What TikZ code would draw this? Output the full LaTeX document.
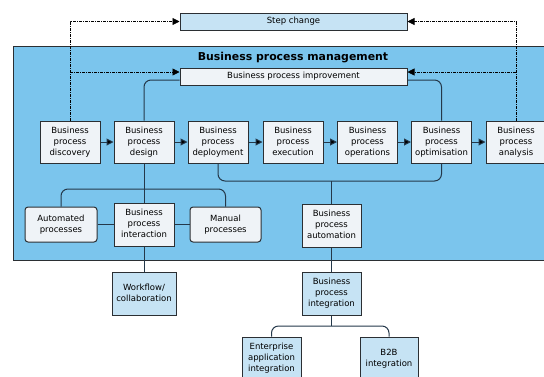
\documentclass[tikz,border=0pt]{standalone}
\usepackage{fontspec}
\setmainfont{DejaVu Sans}
\usetikzlibrary{arrows.meta}
\definecolor{bpmblue}{HTML}{7BC5ED}
\definecolor{boxgrey}{HTML}{EFF3F7}
\definecolor{boxblue}{HTML}{C6E3F4}
\definecolor{edge}{HTML}{2B2F33}
\definecolor{wire}{HTML}{24384A}
\tikzset{
  txt/.style={font=\fontsize{8.5}{11}\selectfont, align=center, text=black},
  pbox/.style={txt, draw=edge, line width=1pt, fill=boxgrey, minimum width=60pt, minimum height=42pt, inner sep=1pt, execute at end node={\vphantom{gy}}},
  rbox/.style={pbox, rounded corners=3pt, minimum height=35pt},
  bbox/.style={pbox, fill=boxblue, minimum height=43pt},
  wide/.style={txt, draw=edge, line width=1pt, minimum width=227pt, minimum height=17pt, inner sep=0pt},
  flow/.style={draw=wire, line width=1pt, -{Triangle[length=7pt,width=7pt,fill=black]}},
  wireline/.style={draw=wire, line width=1pt, rounded corners=7pt},
  dashline/.style={draw=black, line width=0.7pt, dash pattern=on 3pt off 1pt on 1pt off 1pt},
  dasharrow/.style={dashline, -{Triangle[length=7pt,width=7pt]}}
}
\begin{document}
\begin{tikzpicture}[x=1pt,y=-1pt]
\useasboundingbox (0,0) rectangle (544,376);
\clip (0,0) rectangle (544,376);
\fill[white] (0,0) rectangle (544,376);
% background panel
\node[draw=edge, line width=1pt, fill=bpmblue, minimum width=537pt, minimum height=214pt, inner sep=0pt, anchor=north west] (bpm) at (13,46) {};
\node[font=\bfseries\fontsize{10.9}{13}\selectfont] (title) at (293,58) {Business process management};
% top boxes
\node[wide, fill=boxblue] (step) at (293.5,21.5) {Step change};
\node[wide, fill=boxgrey] (bpi) at (293.5,76.5) {Business process improvement};
% main row
\node[pbox] (disc) at (70,142) {Business\\process\\discovery};
\node[pbox] (design) at (144,142) {Business\\process\\design};
\node[pbox] (deploy) at (218,142) {Business\\process\\deployment};
\node[pbox] (exec) at (293,142) {Business\\process\\execution};
\node[pbox] (oper) at (367.5,142) {Business\\process\\operations};
\node[pbox] (optim) at (441.5,142) {Business\\process\\optimisation};
\node[pbox] (anal) at (516,142) {Business\\process\\analysis};
% second row
\node[rbox, minimum width=72pt] (auto) at (61,224.5) {Automated\\processes};
\node[pbox, minimum height=43pt] (inter) at (144,224.5) {Business\\process\\interaction};
\node[rbox, minimum width=71pt] (manual) at (225.5,224.5) {Manual\\processes};
\node[pbox, minimum width=59pt, minimum height=43pt] (automation) at (331.5,225.5) {Business\\process\\automation};
% lower boxes
\node[bbox, minimum width=64pt] (work) at (144,293.5) {Workflow/\\collaboration};
\node[bbox, minimum width=59pt] (integ) at (331.5,293.5) {Business\\process\\integration};
\node[bbox, minimum width=59pt] (eai) at (271.5,358.5) {Enterprise\\application\\integration};
\node[bbox, minimum width=58pt] (b2b) at (389,358.5) {B2B\\integration};
% flow arrows
\draw[flow] (disc) -- (design);
\draw[flow] (design) -- (deploy);
\draw[flow] (deploy) -- (exec);
\draw[flow] (exec) -- (oper);
\draw[flow] (oper) -- (optim);
\draw[flow] (optim) -- (anal);
% improvement loop
\draw[wireline] ([yshift=-3.5pt]bpi.west) -| (design.north);
\draw[wireline] ([yshift=-3.5pt]bpi.east) -| (optim.north);
% deployment-optimisation bracket
\coordinate (bk) at (331.5,181);
\draw[wireline] (deploy.south) |- (bk) -| (optim.south);
\draw[wireline] (bk) -- (automation.north);
% design down
\coordinate (dk) at (144,189);
\draw[wireline] (design.south) -- (inter.north);
\draw[wireline] (auto.north) |- (dk) -| (manual.north);
\draw[wireline] (auto.east) -- (inter.west);
\draw[wireline] (inter.east) -- (manual.west);
\draw[wireline] (inter.south) -- (work.north);
\draw[wireline] (automation.south) -- (integ.north);
\coordinate (ik) at (331.5,326);
\draw[wireline] (integ.south) -- (ik);
\draw[wireline] (eai.north) |- (ik) -| (b2b.north);
% dashed feedback
\coordinate (dl) at (70,72);
\coordinate (dr) at (516,72);
\draw[dasharrow] (disc.north) |- (step.west);
\draw[dasharrow] (dl) -- (dl -| bpi.west);
\draw[dasharrow] (anal.north) |- (step.east);
\draw[dasharrow] (dr) -- (dr -| bpi.east);
\end{tikzpicture}
\end{document}
